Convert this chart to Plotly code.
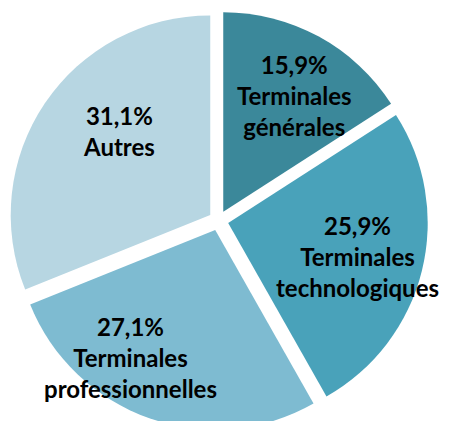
import plotly.graph_objects as go

categories = ["Terminales générales", "Terminales technologiques",
              "Terminales professionnelles", "Autres"]
values = [15.9, 25.9, 27.1, 31.1]
value_labels = ["15,9%", "25,9%", "27,1%", "31,1%"]
label_lines = ["Terminales<br>générales", "Terminales<br>technologiques",
               "Terminales<br>professionnelles", "Autres"]

# style
colors = ["#3b889a", "#49a2ba", "#7ebbd1", "#b7d6e2"]
BODY = 8  # default page margin around the plot div
W, H = 449, 423
ML, MR, MT, MB = 0.5, 28.5, 2.5, 0.5
# label block centres in window pixels (layout only)
label_px = [(294.5, 95), (358, 257), (130, 358), (119, 131)]

fig = go.Figure(go.Pie(
    labels=categories,
    values=values,
    sort=False,
    direction="clockwise",
    rotation=0,
    pull=[0.05] * len(values),
    marker=dict(colors=colors, line=dict(width=0)),
    textinfo="none",
    hoverinfo="label+percent",
    showlegend=False,
))

pw, ph = W - ML - MR, H - MT - MB
for (px, py), v, lab in zip(label_px, value_labels, label_lines):
    fig.add_annotation(
        x=(px - BODY - ML) / pw, y=1 - (py - BODY - MT) / ph,
        xref="paper", yref="paper",
        text=f"<b>{v}<br>{lab}</b>", showarrow=False,
        font=dict(family="Lato", size=24, color="#000000"),
        align="center", xanchor="center", yanchor="middle",
    )

fig.update_layout(
    width=W, height=H,
    margin=dict(l=ML, r=MR, t=MT, b=MB),
    paper_bgcolor="white", plot_bgcolor="white",
)
fig.write_html("out.html")
